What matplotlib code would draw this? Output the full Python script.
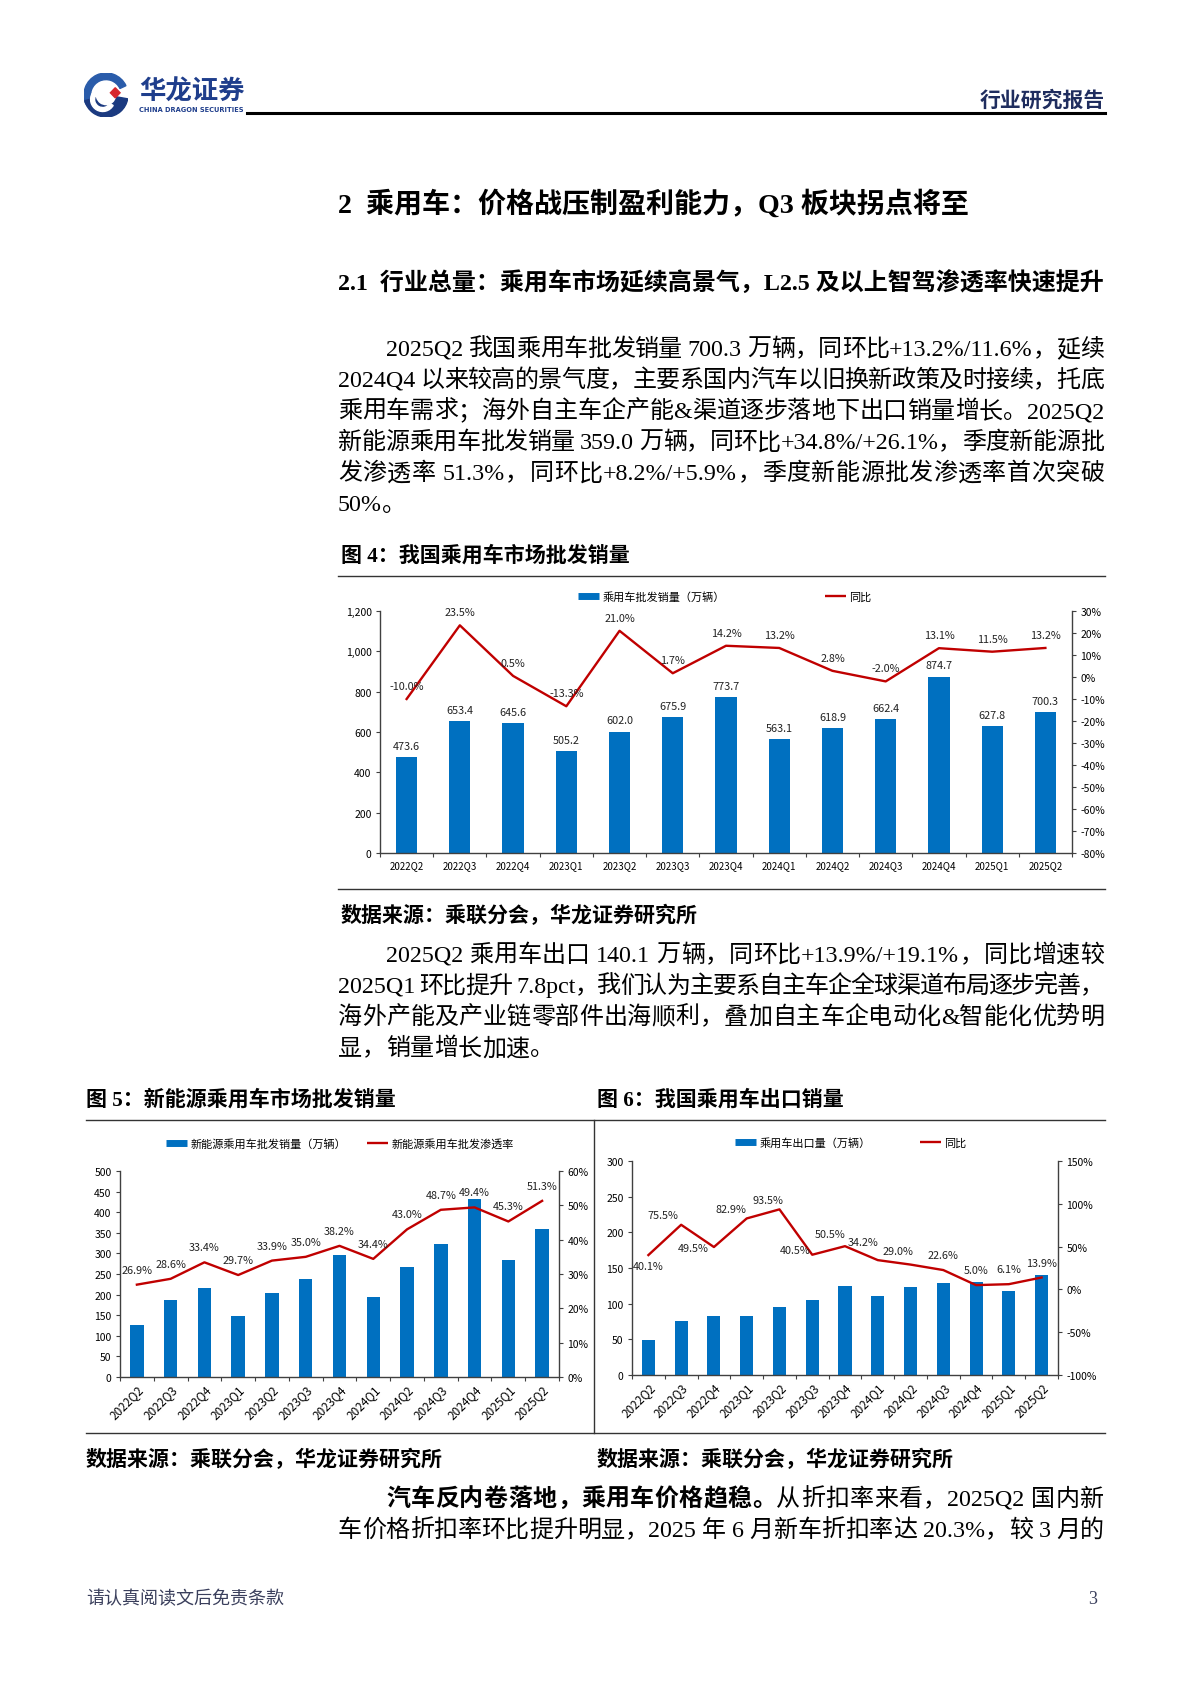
import re
import numpy as np
import matplotlib
matplotlib.use("Agg")
import matplotlib.pyplot as plt
from matplotlib.lines import Line2D
from matplotlib.patches import Wedge, Polygon

quarters = ["2022Q2", "2022Q3", "2022Q4", "2023Q1", "2023Q2", "2023Q3", "2023Q4",
            "2024Q1", "2024Q2", "2024Q3", "2024Q4", "2025Q1", "2025Q2"]

# 图4 乘用车批发销量（万辆） / 同比(%)
wholesale = [473.6, 653.4, 645.6, 505.2, 602.0, 675.9, 773.7, 563.1, 618.9, 662.4, 874.7, 627.8, 700.3]
wholesale_yoy = [-10.0, 23.5, 0.5, -13.3, 21.0, 1.7, 14.2, 13.2, 2.8, -2.0, 13.1, 11.5, 13.2]

# 图5 新能源乘用车批发销量（万辆） / 批发渗透率(%)
nev_sales = [126, 187, 215, 149, 204, 237, 296, 193, 267, 322, 431, 284, 359.0]
nev_rate = [26.9, 28.6, 33.4, 29.7, 33.9, 35.0, 38.2, 34.4, 43.0, 48.7, 49.4, 45.3, 51.3]

# 图6 乘用车出口量（万辆） / 同比(%)
export = [49.6, 75.8, 83.3, 83.3, 95.9, 105.8, 125.4, 111.4, 123.0, 129.6, 131.0, 118.0, 140.1]
export_yoy = [40.1, 75.5, 49.5, 82.9, 93.5, 40.5, 50.5, 34.2, 29.0, 22.6, 5.0, 6.1, 13.9]

W, H = 1190, 1683
BLUE = "#0070C0"
RED = "#C00000"
AXC = "#404040"
NAVY = "#1F3E8C"
BODY = ["Liberation Serif", "Noto Sans CJK SC"]
CJK = ["Noto Sans CJK SC", "DejaVu Sans"]

plt.rcParams["font.family"] = CJK
plt.rcParams["axes.unicode_minus"] = False
plt.rcParams["xtick.labelsize"] = 7.5
plt.rcParams["ytick.labelsize"] = 7.5

fig = plt.figure(figsize=(W / 100, H / 100), dpi=100)
fig.patch.set_facecolor("white")
renderer = fig.canvas.get_renderer()


def fx(px):
    return px / W


def fy(py):
    return 1 - py / H


def hline(x0, x1, y, lw=1.0, color="#333333"):
    fig.add_artist(Line2D([fx(x0), fx(x1)], [fy(y), fy(y)], transform=fig.transFigure,
                          color=color, lw=lw))


def vline(x, y0, y1, lw=1.0, color="#333333"):
    fig.add_artist(Line2D([fx(x), fx(x)], [fy(y0), fy(y1)], transform=fig.transFigure,
                          color=color, lw=lw))


def text(x, yc, s, size, weight="normal", family=BODY, ha="left", color="black"):
    # yc = visual centre of the line in pixels
    fig.text(fx(x), fy(yc + 0.37 * size * 100 / 72), s, fontsize=size, weight=weight,
             family=family, ha=ha, va="baseline", color=color)


def jline(segs, x0, x1, yc, size=17.3, justify=True):
    # place tokens one by one so the line fills x0..x1 like the justified page text
    em = size * 100 / 72
    parts = []
    for s, wt in segs:
        for tk in re.findall(r"[!-~]+| |[^ -~]", s):
            if tk == " ":
                parts.append([None, 0.25 * em])
                continue
            t = fig.text(0, 0, tk, fontsize=size, family=BODY, weight=wt, va="baseline")
            parts.append([t, t.get_window_extent(renderer).width])
    total = sum(w for _, w in parts)
    gap = (x1 - x0 - total) / (len(parts) - 1) if justify and len(parts) > 1 else 0
    x = x0
    for t, w in parts:
        if t is not None:
            t.set_position((fx(x), fy(yc + 0.37 * em)))
        x += w + gap


def paragraph(lines, y0, step=31.1, x0=338, x1=1104, indent=386):
    for i, ln in enumerate(lines):
        segs = ln if isinstance(ln, list) else [(ln, "normal")]
        last = i == len(lines) - 1 and not isinstance(ln, list) and len(ln) < 20
        jline(segs, indent if i == 0 else x0, x1, y0 + i * step, justify=not last)


def add_ax(x0, y0, x1, y1):
    return fig.add_axes([fx(x0), fy(y1), fx(x1 - x0), (y1 - y0) / H])


def combo(box, bars, rates, lticks, rticks, lfmt, names, leg_c, colsp, rotate,
          bar_lbl, offs):
    ax = add_ax(*box)
    x = np.arange(len(quarters))
    ax.bar(x, bars, width=0.4, color=BLUE, zorder=2)
    ax.set_xlim(-0.5, len(quarters) - 0.5)
    ax.set_ylim(lticks[0], lticks[-1])
    ax.set_yticks(lticks)
    ax.set_yticklabels([lfmt(v) for v in lticks])
    ax.set_xticks(x)
    if rotate:
        ax.set_xticklabels(quarters, rotation=45, ha="right", va="top",
                           rotation_mode="anchor", fontsize=8.5)
        ax.tick_params(axis="x", which="major", length=0, pad=4)
    else:
        ax.set_xticklabels(quarters, fontsize=7)
        ax.tick_params(axis="x", which="major", length=0, pad=5)
    ax.set_xticks(np.arange(-0.5, len(quarters)), minor=True)
    ax.tick_params(axis="x", which="minor", length=3, width=0.8, color=AXC)
    ax.tick_params(axis="y", length=3, width=0.8, color=AXC, pad=3)
    for sp in ["top", "right"]:
        ax.spines[sp].set_visible(False)
    for sp in ["left", "bottom"]:
        ax.spines[sp].set_color(AXC)
        ax.spines[sp].set_linewidth(1.0)
    if bar_lbl:
        for i, v in enumerate(bars):
            ax.annotate(f"{v:.1f}", (i, v), xytext=(0, 8), textcoords="offset points",
                        ha="center", va="center", fontsize=7.8, color="#222222")

    ax2 = ax.twinx()
    ax2.plot(x, rates, color=RED, lw=1.7, zorder=3)
    ax2.set_ylim(rticks[0], rticks[-1])
    ax2.set_yticks(rticks)
    ax2.set_yticklabels([f"{v}%" for v in rticks])
    ax2.tick_params(axis="y", length=3, width=0.8, color=AXC, pad=3)
    for sp in ["top", "left", "bottom"]:
        ax2.spines[sp].set_visible(False)
    ax2.spines["right"].set_color(AXC)
    ax2.spines["right"].set_linewidth(1.0)
    for i, r in enumerate(rates):
        dx, dy = offs[i]
        ax2.annotate(f"{r:.1f}%", (i, r), xytext=(dx * 0.72, dy * 0.72),
                     textcoords="offset points", ha="center", va="center",
                     fontsize=7.8, color="#222222")

    handles = [Line2D([], [], color=BLUE, lw=5, solid_capstyle="butt"),
               Line2D([], [], color=RED, lw=1.7, solid_capstyle="butt")]
    fig.legend(handles, names, loc="center", bbox_to_anchor=(fx(leg_c[0]), fy(leg_c[1])),
               ncol=2, frameon=False, fontsize=8, handlelength=1.9,
               handletextpad=0.3, columnspacing=colsp, borderpad=0)
    return ax, ax2


# ---------- header ----------
lax = fig.add_axes([fx(84), fy(118), fx(44), 44 / H])
lax.set_xlim(-1, 1)
lax.set_ylim(-1, 1)
lax.set_aspect("equal")
lax.axis("off")
lax.add_patch(Wedge((0, 0), 1.0, 25, 205, width=0.3, color="#2A5CAA"))
lax.add_patch(Wedge((0, 0), 1.0, 195, 350, width=0.5, color="#1B3A80"))
lax.add_patch(Wedge((-0.15, -0.2), 0.55, 150, 330, width=0.18, color="white"))
lax.add_patch(Polygon([(0.2, 0.1), (0.42, 0.33), (0.64, 0.1), (0.42, -0.13)],
                      color="#D7262C"))
text(139, 90, "华龙证券", 19, weight="bold", family=CJK, color=NAVY)
fig.text(fx(139), fy(112), "CHINA DRAGON SECURITIES", fontsize=4.8, weight="bold",
         family=["DejaVu Sans"], color=NAVY, va="baseline")
text(1105, 99, "行业研究报告", 15, weight="bold", family=CJK, ha="right", color="#1F2D5E")
hline(247, 1105, 114, lw=2.2, color="black")

# ---------- headings & text ----------
text(338, 202, "2  乘用车：价格战压制盈利能力，Q3 板块拐点将至", 20.2, weight="bold")
text(338, 282, "2.1  行业总量：乘用车市场延续高景气，L2.5 及以上智驾渗透率快速提升", 17.3,
     weight="bold")

paragraph([
    "2025Q2 我国乘用车批发销量 700.3 万辆，同环比+13.2%/11.6%，延续",
    "2024Q4 以来较高的景气度，主要系国内汽车以旧换新政策及时接续，托底",
    "乘用车需求；海外自主车企产能&渠道逐步落地下出口销量增长。2025Q2",
    "新能源乘用车批发销量 359.0 万辆，同环比+34.8%/+26.1%，季度新能源批",
    "发渗透率 51.3%，同环比+8.2%/+5.9%，季度新能源批发渗透率首次突破",
    "50%。",
], 347)

text(341, 554, "图 4：我国乘用车市场批发销量", 15.1, weight="bold")
hline(338, 1105, 577)
hline(338, 1105, 890)
text(341, 914, "数据来源：乘联分会，华龙证券研究所", 15.1, weight="bold")

paragraph([
    "2025Q2 乘用车出口 140.1 万辆，同环比+13.9%/+19.1%，同比增速较",
    "2025Q1 环比提升 7.8pct，我们认为主要系自主车企全球渠道布局逐步完善，",
    "海外产能及产业链零部件出海顺利，叠加自主车企电动化&智能化优势明",
    "显，销量增长加速。",
], 953)

text(86, 1098, "图 5：新能源乘用车市场批发销量", 15.1, weight="bold")
text(597, 1098, "图 6：我国乘用车出口销量", 15.1, weight="bold")
hline(86, 1105, 1121)
hline(86, 1105, 1434)
vline(594, 1121, 1434)
text(86, 1458, "数据来源：乘联分会，华龙证券研究所", 15.1, weight="bold")
text(597, 1458, "数据来源：乘联分会，华龙证券研究所", 15.1, weight="bold")

paragraph([
    [("汽车反内卷落地，乘用车价格趋稳。", "bold"), ("从折扣率来看，2025Q2 国内新", "normal")],
    "车价格折扣率环比提升明显，2025 年 6 月新车折扣率达 20.3%，较 3 月的",
], 1497, step=31)

text(86, 1597, "请认真阅读文后免责条款", 13, color="#3A3F5C")
text(1097, 1597, "3", 13, color="#3A3F5C", ha="right")

# ---------- charts ----------
up = [(0, 13)] * 13
combo((380, 612, 1072, 854), wholesale, wholesale_yoy,
      list(range(0, 1201, 200)), list(range(-80, 31, 10)),
      lambda v: f"{v:,}", ["乘用车批发销量（万辆）", "同比"], (725, 597), 9.0,
      False, True, up)

combo((120, 1172, 559, 1378), nev_sales, nev_rate,
      list(range(0, 501, 50)), list(range(0, 61, 10)),
      lambda v: f"{v}", ["新能源乘用车批发销量（万辆）", "新能源乘用车批发渗透率"],
      (340, 1144), 1.9, True, False, [(0, 15)] * 13)

exp_offs = [(0, -11), (-18, 10), (-21, -1), (-16, 9), (-12, 9), (-17, 5), (-15, 12),
            (-15, 18), (-13, 14), (0, 15), (0, 15), (0, 15), (0, 15)]
combo((632, 1162, 1058, 1376), export, export_yoy,
      list(range(0, 301, 50)), list(range(-100, 151, 50)),
      lambda v: f"{v}", ["乘用车出口量（万辆）", "同比"], (851, 1143), 4.4,
      True, False, exp_offs)

fig.savefig("out.png", dpi=100, facecolor="white")
